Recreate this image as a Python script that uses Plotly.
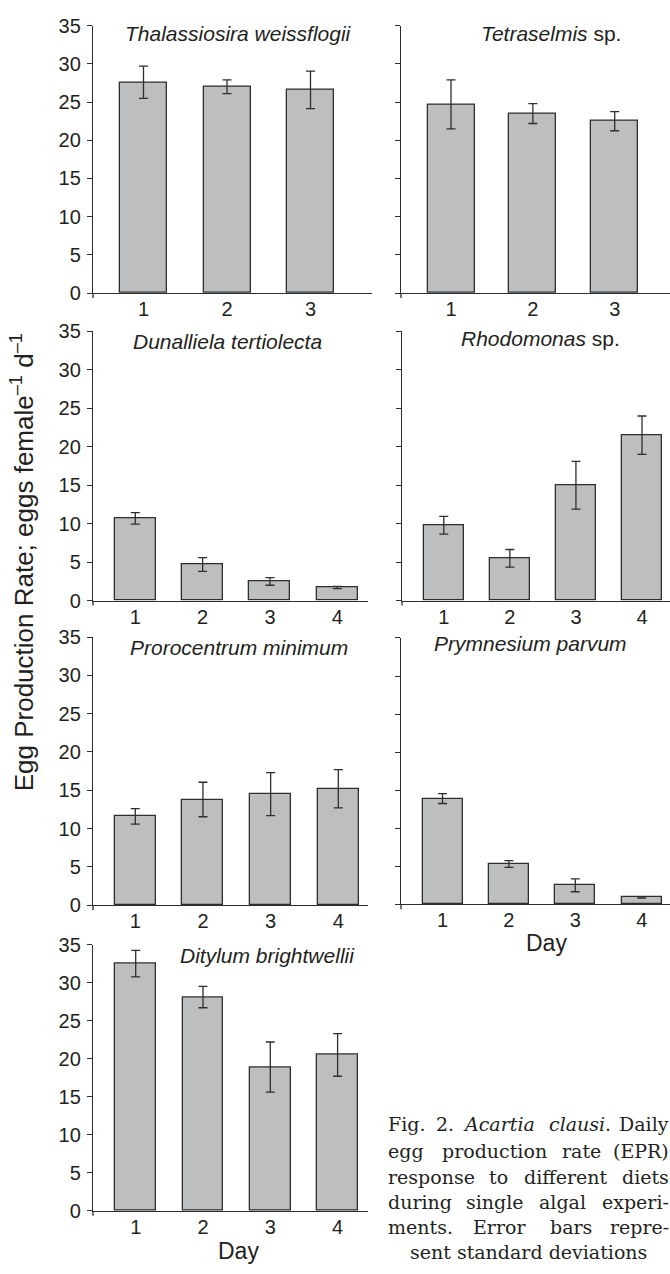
import plotly.graph_objects as go

W, H = 670, 1274

# ---------------- data ----------------
days3 = [1, 2, 3]
days4 = [1, 2, 3, 4]

thal_mean = [27.6, 27.0, 26.6]
thal_sd = [2.1, 0.9, 2.45]

tetra_mean = [24.7, 23.5, 22.5]
tetra_sd = [3.2, 1.3, 1.25]

duna_mean = [10.7, 4.7, 2.5, 1.7]
duna_sd = [0.75, 0.9, 0.5, 0.15]

rhodo_mean = [9.8, 5.5, 15.0, 21.5]
rhodo_sd = [1.15, 1.15, 3.1, 2.5]

proro_mean = [11.6, 13.8, 14.5, 15.2]
proro_sd = [1.0, 2.25, 2.8, 2.5]

prym_mean = [13.9, 5.3, 2.5, 0.9]
prym_sd = [0.65, 0.45, 0.85, 0.1]

dity_mean = [32.5, 28.1, 18.9, 20.5]
dity_sd = [1.75, 1.4, 3.3, 2.8]

y_ticks = [0, 5, 10, 15, 20, 25, 30, 35]

titles = [
    "<i>Thalassiosira weissflogii</i>",
    "<i>Tetraselmis</i> sp.",
    "<i>Dunalliela tertiolecta</i>",
    "<i>Rhodomonas</i> sp.",
    "<i>Prorocentrum minimum</i>",
    "<i>Prymnesium parvum</i>",
    "<i>Ditylum brightwellii</i>",
]
y_title = "Egg Production Rate; eggs female<sup>–1</sup> d<sup>–1</sup>"
x_title = "Day"

# ---------------- style / layout ----------------
DARK = "#2e2e2e"
FILL = "#bdbec0"
SANS = "Liberation Sans, Arial, sans-serif"
SERIF = "DejaVu Serif, serif"
TXT = "#231f20"

# (x_left, x_right, y_top, y_bottom, first_bar_center, bar_spacing, bar_width) in px
panels = [
    dict(x=days3, m=thal_mean, s=thal_sd, lab=True, g=(93, 372, 15, 287, 143.5, 83.5, 47), t=(238.8, 22.5)),
    dict(x=days3, m=tetra_mean, s=tetra_sd, lab=False, g=(401, 670, 15, 287, 451, 81.85, 47), t=(551.3, 23.3)),
    dict(x=days4, m=duna_mean, s=duna_sd, lab=True, g=(93, 368, 326, 600, 135.3, 67.33, 41), t=(227.5, 336)),
    dict(x=days4, m=rhodo_mean, s=rhodo_sd, lab=False, g=(402, 670, 326, 600, 443.8, 66.07, 40), t=(540.8, 333)),
    dict(x=days4, m=proro_mean, s=proro_sd, lab=True, g=(93, 368, 637, 910, 135.3, 67.67, 41), t=(239, 647.5)),
    dict(x=days4, m=prym_mean, s=prym_sd, lab=False, g=(401, 670, 638, 909, 442.5, 66.4, 40), t=(530.3, 644)),
    dict(x=days4, m=dity_mean, s=dity_sd, lab=True, g=(93, 368, 950, 1221, 135.7, 67.3, 40.5), t=(267.5, 961)),
]


def px(x):
    return x / W


def py(y):
    return 1 - y / H


fig = go.Figure()
layout = {}
shapes = []
annotations = []

for i, p in enumerate(panels):
    k = "" if i == 0 else str(i + 1)
    xl, xr, yt, yb, c1, sp, bw = p["g"]
    fig.add_trace(go.Bar(
        x=p["x"], y=p["m"],
        error_y=dict(type="data", array=p["s"], visible=True, color=DARK, thickness=1.3, width=4.5),
        marker=dict(color=FILL, line=dict(color=DARK, width=1.3)),
        width=bw / sp, xaxis="x" + k, yaxis="y" + k, showlegend=False,
    ))
    layout["xaxis" + k] = dict(
        domain=[px(xl), px(xr)], range=[1 - (c1 - xl) / sp, 1 + (xr - c1) / sp],
        anchor="y" + k, tickvals=p["x"], ticktext=[str(v) for v in p["x"]],
        showline=True, linecolor=DARK, linewidth=1.3, ticks="", showgrid=False, zeroline=False,
        tickfont=dict(family=SANS, size=20, color=TXT), ticklabelstandoff=-2, fixedrange=True,
    )
    layout["yaxis" + k] = dict(
        domain=[py(yb), py(yt)], range=[0, 35], anchor="x" + k, tickvals=y_ticks,
        ticks="outside", ticklen=5, tickwidth=1.3, tickcolor=DARK,
        showline=True, linecolor=DARK, linewidth=1.3, showgrid=False, zeroline=False,
        showticklabels=p["lab"], tickfont=dict(family=SANS, size=20, color=TXT), ticklabelstandoff=2,
        fixedrange=True,
    )
    shapes.append(dict(type="line", xref="x" + k + " domain", yref="y" + k + " domain",
                       x0=0, x1=0, y0=0, y1=-5 / (yb - yt), line=dict(color=DARK, width=1.3)))
    annotations.append(dict(text=titles[i], x=px(p["t"][0]), y=py(p["t"][1]), xref="paper", yref="paper",
                            xanchor="center", yanchor="middle", showarrow=False,
                            font=dict(family=SANS, size=21, color=TXT)))

# axis titles
annotations.append(dict(text=y_title, x=px(22), y=py(561), xref="paper", yref="paper", textangle=-90,
                        xanchor="center", yanchor="middle", showarrow=False,
                        font=dict(family=SANS, size=26, color=TXT)))
annotations.append(dict(text=x_title, x=px(546), y=py(948), xref="paper", yref="paper",
                        xanchor="center", yanchor="middle", showarrow=False,
                        font=dict(family=SANS, size=23, color=TXT)))
annotations.append(dict(text=x_title, x=px(238), y=py(1262), xref="paper", yref="paper",
                        xanchor="center", yanchor="middle", showarrow=False,
                        font=dict(family=SANS, size=23, color=TXT)))

# caption (justified by placing words)
caption_lines = [
    (1133, [("Fig.", "left", 386.7), ("2.", "center", 445), ("<i>Acartia</i>", "center", 499.2),
            ("<i>clausi</i>.", "center", 580), ("Daily", "right", 670)]),
    (1160, [("egg", "left", 386.7), ("production", "center", 494.2), ("rate", "center", 581.3),
            ("(EPR)", "right", 670)]),
    (1186, [("response", "left", 386.7), ("to", "center", 498.3), ("different", "center", 565.8),
            ("diets", "right", 670)]),
    (1212, [("during", "left", 386.7), ("single", "center", 495), ("algal", "center", 562.5),
            ("experi-", "right", 670)]),
    (1237, [("ments.", "left", 386.7), ("Error", "center", 499.2), ("bars", "center", 570.8),
            ("repre-", "right", 670)]),
    (1263, [("sent standard deviations", "center", 528.3)]),
]
for yline, words in caption_lines:
    for w, anc, xw in words:
        annotations.append(dict(text=w, x=px(xw), y=py(yline), xref="paper", yref="paper",
                                xanchor=anc, yanchor="middle", showarrow=False, borderpad=0,
                                font=dict(family=SERIF, size=19, color=TXT)))

fig.update_layout(
    width=W, height=H, margin=dict(l=0, r=0, t=0, b=0), autosize=False,
    paper_bgcolor="white", plot_bgcolor="white",
    shapes=shapes, annotations=annotations, bargap=0, **layout,
)

fig.write_html(
    "out.html",
    config={"displayModeBar": False},
    post_script="document.body.style.margin='0';document.body.style.overflow='hidden';",
)
